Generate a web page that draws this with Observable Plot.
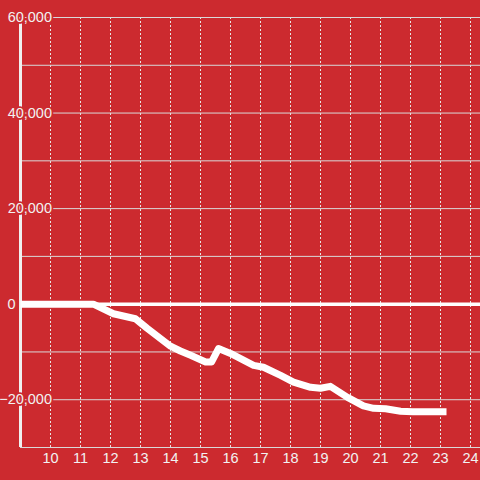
<!DOCTYPE html>
<html>
<head>
<meta charset="utf-8">
<script src="https://cdn.jsdelivr.net/npm/d3@7"></script>
<script src="https://cdn.jsdelivr.net/npm/@observablehq/plot@0.6"></script>
<style>
  html, body { margin: 0; padding: 0; background: #cc2a2f; }
  #chart svg { display: block; }
</style>
</head>
<body>
<div id="chart"></div>
<script>
const xs = [9, 11.43, 12.1, 12.83, 13.23, 14.0, 14.33, 14.67, 15.17, 15.37, 15.6, 16.0, 16.77, 17.1, 17.67, 18.1, 18.67, 19.0, 19.33, 19.9, 20.43, 20.77, 21.17, 21.67, 22.07, 23.2];
const ys = [0, 0, -2000, -3050, -5100, -8800, -9800, -10700, -12100, -12100, -9300, -10300, -12800, -13200, -14900, -16300, -17400, -17600, -17200, -19500, -21300, -21800, -21900, -22400, -22500, -22500];
const xTicks = [10, 11, 12, 13, 14, 15, 16, 17, 18, 19, 20, 21, 22, 23, 24];
const yGrid = [60000, 50000, 40000, 30000, 20000, 10000, -10000, -20000, -30000];
const yLabels = [60000, 40000, 20000, -20000];
const zeroLabel = [0];

const data = xs.map((x, i) => ({x, y: ys[i]}));
const bg = "#cc2a2f";
const fmt = d3.format(",");

const chart = Plot.plot({
  width: 480,
  height: 480,
  marginLeft: 20,
  marginRight: 0,
  marginTop: 17,
  marginBottom: 33,
  style: {background: bg, fontFamily: "'Liberation Sans', Arial, sans-serif", overflow: "visible"},
  x: {domain: [9, 24.333], axis: null},
  y: {domain: [-30000, 60000], axis: null},
  marks: [
    Plot.ruleX(xTicks, {x: d => d, y1: 60000, y2: -30000, stroke: "#e6e6e6", strokeWidth: 1, strokeDasharray: "2,2"}),
    Plot.ruleY(yGrid, {y: d => d, stroke: "#d9d9d9", strokeWidth: 1}),
    Plot.ruleY([0], {x1: 9.1, x2: 24.333, stroke: "#ffffff", strokeWidth: 3.5}),
    Plot.ruleX([9], {y1: 60000, y2: -30000, stroke: "#f0f0f0", strokeWidth: 3}),
    Plot.text(yLabels, {y: d => d, text: d => fmt(d), frameAnchor: "left", dx: 31.5, textAnchor: "end", fill: "#f2f2f2", stroke: bg, strokeWidth: 3.5, fontSize: 14.5}),
    Plot.text(zeroLabel, {y: d => d, text: d => fmt(d), frameAnchor: "left", dx: -5, textAnchor: "end", fill: "#f2f2f2", stroke: bg, strokeWidth: 3.5, fontSize: 14.5}),
    Plot.text(xTicks, {x: d => d, text: d => String(d), frameAnchor: "bottom", dy: 15, fill: "#f2f2f2", fontSize: 14.5}),
    Plot.line(data, {x: "x", y: "y", stroke: "#ffffff", strokeWidth: 7, strokeLinejoin: "round", strokeLinecap: "butt"})
  ]
});
document.getElementById("chart").appendChild(chart);
</script>
</body>
</html>
